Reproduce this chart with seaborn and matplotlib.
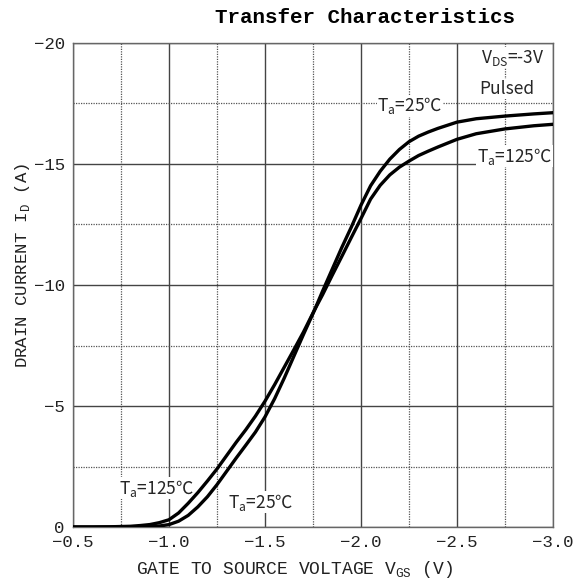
import numpy as np
import pandas as pd
import matplotlib
matplotlib.use("Agg")
import matplotlib.pyplot as plt
import seaborn as sns

# gate-source voltage (V) and drain current (A)
vgs = [-0.5, -0.6, -0.7, -0.8, -0.85, -0.9, -0.95, -1.0, -1.05, -1.1, -1.15, -1.2, -1.25, -1.3,
       -1.35, -1.4, -1.45, -1.5, -1.55, -1.6, -1.65, -1.7, -1.76, -1.8, -1.85, -1.9, -1.95, -2.0,
       -2.05, -2.1, -2.15, -2.2, -2.25, -2.3, -2.35, -2.4, -2.5, -2.6, -2.75, -2.9, -3.0]
id_25c = [0.0, 0.0, 0.0, 0.0, -0.01, -0.02, -0.04, -0.1, -0.24, -0.48, -0.83, -1.25, -1.75, -2.3,
          -2.85, -3.38, -3.92, -4.55, -5.3, -6.15, -7.05, -7.95, -9.0, -9.75, -10.65, -11.55, -12.4, -13.3,
          -14.1, -14.7, -15.2, -15.6, -15.92, -16.15, -16.32, -16.47, -16.73, -16.87, -16.98, -17.07, -17.12]
id_125c = [0.0, 0.0, -0.01, -0.03, -0.06, -0.1, -0.18, -0.3, -0.58, -0.98, -1.42, -1.9, -2.4, -2.95,
           -3.5, -4.02, -4.58, -5.2, -5.88, -6.6, -7.32, -8.05, -9.0, -9.6, -10.4, -11.18, -11.97, -12.75,
           -13.55, -14.12, -14.55, -14.87, -15.12, -15.35, -15.53, -15.7, -16.02, -16.25, -16.45, -16.58, -16.64]

x_ticks = [-0.5, -1.0, -1.5, -2.0, -2.5, -3.0]
x_ticklabels = ["\u22120.5", "\u22121.0", "\u22121.5", "\u22122.0", "\u22122.5", "\u22123.0"]
y_ticks = [0, -5, -10, -15, -20]
y_ticklabels = ["0", "\u22125", "\u221210", "\u221215", "\u221220"]

df = pd.DataFrame({
    "vgs": vgs * 2,
    "id": id_25c + id_125c,
    "temp": ["25"] * len(vgs) + ["125"] * len(vgs),
})

sns.set_style("white")
plt.rcParams["font.family"] = ["Liberation Mono", "DejaVu Sans"]
plt.rcParams["mathtext.fontset"] = "custom"
plt.rcParams["mathtext.rm"] = "Liberation Mono"
plt.rcParams["mathtext.sf"] = "Noto Sans CJK SC"
plt.rcParams["axes.unicode_minus"] = True

fig = plt.figure(figsize=(5.81, 5.86), dpi=100)
ax = fig.add_axes([73 / 581, 59 / 586, 480 / 581, 484 / 586])

sns.lineplot(data=df, x="vgs", y="id", hue="temp", palette={"25": "black", "125": "black"},
             estimator=None, sort=False, linewidth=2.4, legend=False, ax=ax, zorder=8)

ax.set_xlim(-0.5, -3.0)
ax.set_ylim(0, -20)
ax.set_xticks(x_ticks)
ax.set_xticklabels(x_ticklabels, fontsize=12.5)
ax.set_yticks(y_ticks)
ax.set_yticklabels(y_ticklabels, fontsize=12.5)
ax.set_xticks(np.arange(-0.75, -3.0, -0.5), minor=True)
ax.set_yticks([-2.5, -7.5, -12.5, -17.5], minor=True)
ax.tick_params(which="both", length=0, pad=6, colors="#222222")

ax.grid(which="major", color="#444444", linewidth=1.0, linestyle="-")
ax.grid(which="minor", color="#555555", linewidth=0.9, linestyle=(0, (1, 1)))
for s in ax.spines.values():
    s.set_color("#666666")
    s.set_linewidth(1.0)

ax.set_xlabel(r"GATE TO SOURCE VOLTAGE $\mathrm{V}_{\mathrm{GS}}$ (V)", fontsize=13, color="#222222")
ax.xaxis.set_label_coords(0.4625, -0.066)
ax.set_ylabel(r"DRAIN CURRENT $\mathrm{I}_{\mathrm{D}}$ (A)", fontsize=12.5, color="#222222")
ax.yaxis.set_label_coords(-0.085, 0.54)

ax.text(0.608, 1.052, "Transfer Characteristics", transform=ax.transAxes, ha="center", va="center",
        fontsize=15, fontweight="bold", color="black")

sans = ["Noto Sans CJK SC", "DejaVu Sans"]
box = dict(facecolor="white", edgecolor="none", pad=0.5)
ax.text(-2.255, -17.4, r"$\mathsf{T}_{\mathsf{a}}$=25℃", family=sans, fontsize=12.5,
        ha="center", va="center", bbox=box, zorder=6)
ax.text(-2.80, -15.33, r"$\mathsf{T}_{\mathsf{a}}$=125℃", family=sans, fontsize=12.5,
        ha="center", va="center", bbox=box, zorder=6)
ax.text(-2.79, -19.4, r"$\mathsf{V}_{\mathsf{DS}}$=-3V", family=sans, fontsize=12.5,
        ha="center", va="center", bbox=box, zorder=6)
ax.text(-2.76, -18.1, "Pulsed", family=sans, fontsize=12.5,
        ha="center", va="center", bbox=box, zorder=6)
ax.text(-0.9375, -1.61, r"$\mathsf{T}_{\mathsf{a}}$=125℃", family=sans, fontsize=12.5,
        ha="center", va="center", bbox=box, zorder=6)
ax.text(-1.479, -1.03, r"$\mathsf{T}_{\mathsf{a}}$=25℃", family=sans, fontsize=12.5,
        ha="center", va="center", bbox=box, zorder=6)

fig.savefig("out.png", dpi=100)
